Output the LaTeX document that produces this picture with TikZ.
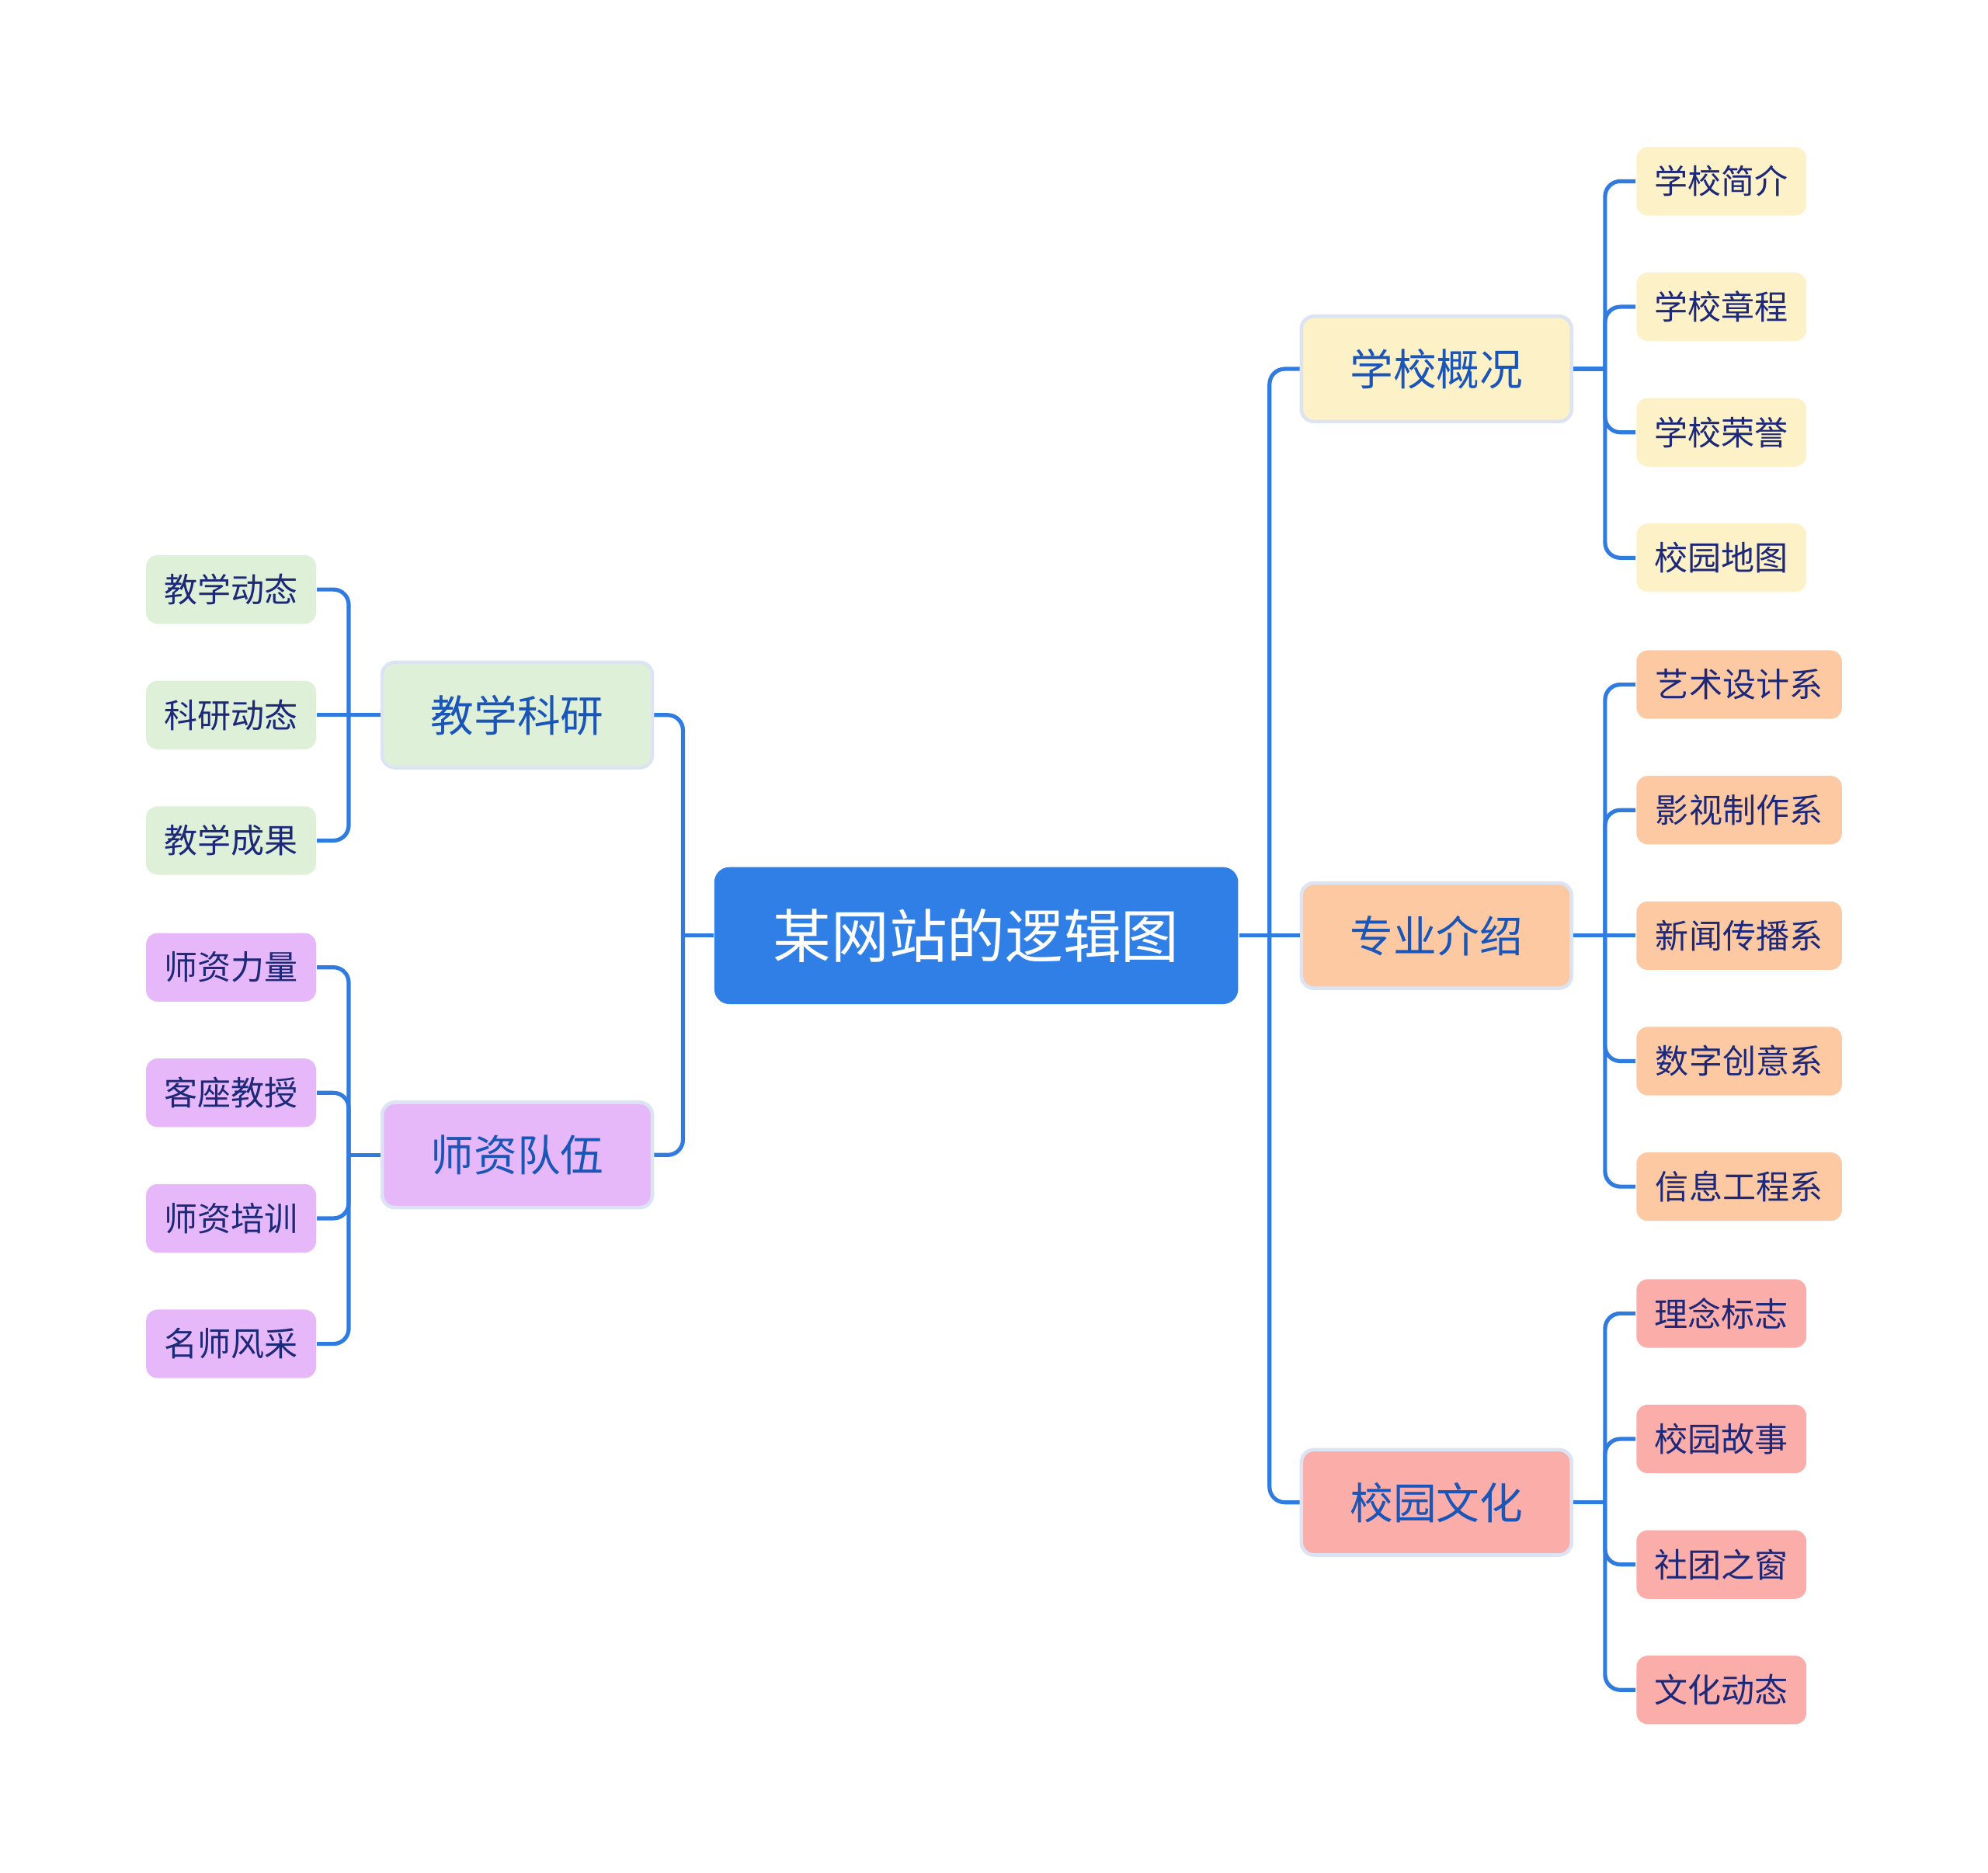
\documentclass[tikz,border=0pt]{standalone}
\usepackage{fontspec}
\usepackage{tikz}
\usetikzlibrary{positioning}
\newfontfamily\cjk{Noto Sans CJK SC}
\definecolor{rootblue}{HTML}{2F7FE6}
\definecolor{linkblue}{HTML}{2F7BE0}
\definecolor{midtext}{HTML}{1A55B8}
\definecolor{leaftext}{HTML}{1D2878}
\definecolor{softframe}{HTML}{DCE4F4}
\definecolor{creamyellow}{HTML}{FDF1C8}
\definecolor{softpeach}{HTML}{FCC9A3}
\definecolor{softpink}{HTML}{FBADAA}
\definecolor{mintgreen}{HTML}{DFF0D8}
\definecolor{lilac}{HTML}{E6B8FA}
\tikzset{
  raiz/.style={
    rounded corners=1.2mm,
    fill=rootblue,
    text=white,
    minimum width=4.13cm,
    minimum height=1.08cm,
    inner sep=0pt,
    font=\cjk\fontsize{13}{15}\selectfont
  },
  rama/.style={
    rounded corners=1mm,
    draw=softframe,
    line width=0.8pt,
    text=midtext,
    minimum width=2.13cm,
    minimum height=.83cm,
    inner sep=0pt,
    font=\cjk\fontsize{9.7}{11}\selectfont
  },
  hoja/.style={
    rounded corners=.9mm,
    text=leaftext,
    minimum width=1.34cm,
    minimum height=.54cm,
    inner sep=0pt,
    font=\cjk\fontsize{7.5}{9}\selectfont
  },
  hojaw/.style={
    hoja,
    minimum width=1.62cm
  },
  enlace/.style={
    line width=0.9pt,
    linkblue,
    rounded corners=1.2mm
  }
}

\begin{document}
\begin{tikzpicture}[x=0.01cm,y=-0.01cm]
\useasboundingbox (0,0) rectangle (1568,1477);
% centro
\node[raiz] (root) at (770,738) {某网站的逻辑图};
% ramas
\node[rama,fill=creamyellow] (gaikuang) at (1133,291) {学校概况};
\node[rama,fill=softpeach] (zhuanye) at (1133,738) {专业介绍};
\node[rama,fill=softpink] (wenhua) at (1133,1185) {校园文化};
\node[rama,fill=mintgreen] (keyan) at (408,564) {教学科研};
\node[rama,fill=lilac] (shizi) at (408,911) {师资队伍};
% hojas derecha
\node[hoja,fill=creamyellow,anchor=west] (jianjie) at (1290,143) {学校简介};
\node[hoja,fill=creamyellow,anchor=west] (zhangcheng) at (1290,242) {学校章程};
\node[hoja,fill=creamyellow,anchor=west] (rongyu) at (1290,341) {学校荣誉};
\node[hoja,fill=creamyellow,anchor=west] (ditu) at (1290,440) {校园地图};
\node[hojaw,fill=softpeach,anchor=west] (yishu) at (1290,540) {艺术设计系};
\node[hojaw,fill=softpeach,anchor=west] (yingshi) at (1290,639) {影视制作系};
\node[hojaw,fill=softpeach,anchor=west] (xinwen) at (1290,738) {新闻传播系};
\node[hojaw,fill=softpeach,anchor=west] (shuzi) at (1290,837) {数字创意系};
\node[hojaw,fill=softpeach,anchor=west] (xinxi) at (1290,936) {信息工程系};
\node[hoja,fill=softpink,anchor=west] (linian) at (1290,1036) {理念标志};
\node[hoja,fill=softpink,anchor=west] (gushi) at (1290,1135) {校园故事};
\node[hoja,fill=softpink,anchor=west] (shetuan) at (1290,1234) {社团之窗};
\node[hoja,fill=softpink,anchor=west] (dongtai) at (1290,1333) {文化动态};
% hojas izquierda
\node[hoja,fill=mintgreen,anchor=east] (jxdt) at (250,465) {教学动态};
\node[hoja,fill=mintgreen,anchor=east] (kydt) at (250,564) {科研动态};
\node[hoja,fill=mintgreen,anchor=east] (jxcg) at (250,663) {教学成果};
\node[hoja,fill=lilac,anchor=east] (liliang) at (250,763) {师资力量};
\node[hoja,fill=lilac,anchor=east] (kezuo) at (250,862) {客座教授};
\node[hoja,fill=lilac,anchor=east] (peixun) at (250,961) {师资培训};
\node[hoja,fill=lilac,anchor=east] (fengcai) at (250,1060) {名师风采};
% enlaces del centro
\draw[enlace] (root.west) -- ++(-24,0) coordinate (bizq);
\draw[enlace] (bizq) |- (keyan.east);
\draw[enlace] (bizq) |- (shizi.east);
\draw[enlace] (root.east) -- (zhuanye.west);
\path (root.east) -- ++(24,0) coordinate (bder);
\draw[enlace] (bder) |- (gaikuang.west);
\draw[enlace] (bder) |- (wenhua.west);
% enlaces a las hojas
\draw[enlace] (gaikuang.east) -- ++(25,0) coordinate (bgk);
\draw[enlace] (bgk) |- (jianjie.west);
\draw[enlace] (bgk) |- (zhangcheng.west);
\draw[enlace] (bgk) |- (rongyu.west);
\draw[enlace] (bgk) |- (ditu.west);
\draw[enlace] (zhuanye.east) -- (xinwen.west);
\path (zhuanye.east) -- ++(25,0) coordinate (bzy);
\draw[enlace] (bzy) |- (yishu.west);
\draw[enlace] (bzy) |- (yingshi.west);
\draw[enlace] (bzy) |- (shuzi.west);
\draw[enlace] (bzy) |- (xinxi.west);
\draw[enlace] (wenhua.east) -- ++(25,0) coordinate (bwh);
\draw[enlace] (bwh) |- (linian.west);
\draw[enlace] (bwh) |- (gushi.west);
\draw[enlace] (bwh) |- (shetuan.west);
\draw[enlace] (bwh) |- (dongtai.west);
\draw[enlace] (keyan.west) -- (kydt.east);
\path (keyan.west) -- ++(-25,0) coordinate (bky);
\draw[enlace] (bky) |- (jxdt.east);
\draw[enlace] (bky) |- (jxcg.east);
\draw[enlace] (shizi.west) -- ++(-25,0) coordinate (bsz);
\draw[enlace] (bsz) |- (liliang.east);
\draw[enlace] (bsz) |- (kezuo.east);
\draw[enlace] (bsz) |- (peixun.east);
\draw[enlace] (bsz) |- (fengcai.east);
\end{tikzpicture}
\end{document}
